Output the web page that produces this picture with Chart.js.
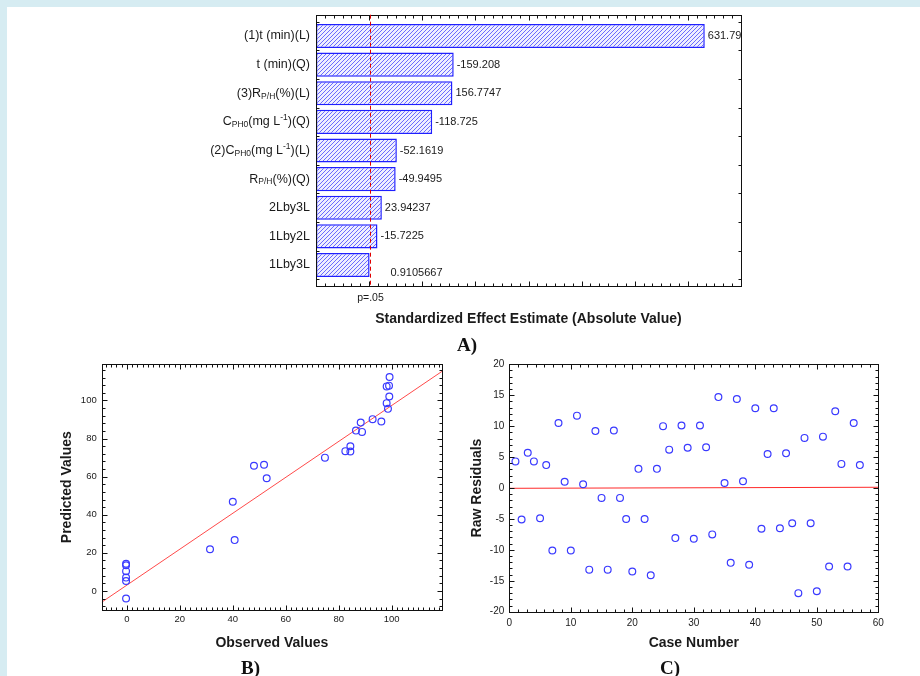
<!DOCTYPE html>
<html>
<head>
<meta charset="utf-8">
<script src="https://cdn.jsdelivr.net/npm/chart.js@4.4.1/dist/chart.umd.min.js"></script>
<style>
html, body { margin: 0; padding: 0; background: #fff; }
#page { position: relative; width: 920px; height: 676px; overflow: hidden; background: #fff; }
.band { position: absolute; background: #d6ecf2; }
canvas { position: absolute; }
.cap { position: absolute; font: bold 19px "Liberation Serif", "Times New Roman", serif; color: #111; line-height: 20px; }
</style>
</head>
<body>
<div id="page">
  <div class="band" style="left:0;top:0;width:920px;height:7px"></div>
  <div class="band" style="left:0;top:0;width:7px;height:676px"></div>
  <canvas id="chartA" width="920" height="356" style="left:0;top:0"></canvas>
  <canvas id="chartB" width="460" height="326" style="left:0;top:350px"></canvas>
  <canvas id="chartC" width="460" height="326" style="left:460px;top:350px"></canvas>
  <div class="cap" style="left:457px;top:335px">A)</div>
  <div class="cap" style="left:241px;top:658px">B)</div>
  <div class="cap" style="left:660px;top:658px">C)</div>
</div>
<script>
// A) pareto of standardized effects
var effectLabels = ["(1)t (min)(L)", "t (min)(Q)", "(3)R_{P/H}(%)(L)", "C_{PH0}(mg L^{-1})(Q)",
  "(2)C_{PH0}(mg L^{-1})(L)", "R_{P/H}(%)(Q)", "2Lby3L", "1Lby2L", "1Lby3L"];
var effectValues = [631.79, -159.208, 156.7747, -118.725, -52.1619, -49.9495, 23.94237, -15.7225, 0.9105667];
var pCritical = 2.0;

// B) observed vs predicted
var observed = [-0.3, -0.3, -0.3, -0.3, -0.3, -0.3, 31.4, 40.7, 40, 48, 51.8, 52.8, 74.8, 82.5, 84.4, 84.4,
  86.5, 88.3, 88.8, 92.8, 96.1, 98.1, 98.6, 99.1, 98.1, 99, 99.2];
var predicted = [14.3, 13.5, 10.4, 7.0, 5.2, -4.0, 21.9, 26.7, 46.8, 65.7, 66.3, 59.2, 70, 73.4, 76, 73.2,
  84.2, 88.4, 83.5, 90.2, 89, 98.6, 95.6, 102.1, 107.4, 107.8, 112.3];
var fitX = [-9.5, 119];
var fitY = [-5.9, 115.3];

// C) raw residuals by case
var caseNumbers = [1, 2, 3, 4, 5, 6, 7, 8, 9, 10, 11, 12, 13, 14, 15, 16, 17, 18, 19, 20, 21, 22, 23, 24, 25,
  26, 27, 28, 29, 30, 31, 32, 33, 34, 35, 36, 37, 38, 39, 40, 41, 42, 43, 44, 45, 46, 47, 48, 49, 50, 51, 52,
  53, 54, 55, 56, 57];
var residuals = [4.3, -5.1, 5.7, 4.3, -4.9, 3.7, -10.1, 10.5, 1.0, -10.1, 11.7, 0.6, -13.2, 9.2, -1.6, -13.2,
  9.3, -1.6, -5.0, -13.5, 3.1, -5.0, -14.1, 3.1, 10.0, 6.2, -8.1, 10.1, 6.5, -8.2, 10.1, 6.6, -7.5, 14.7, 0.8,
  -12.1, 14.4, 1.1, -12.4, 12.9, -6.6, 5.5, 12.9, -6.5, 5.6, -5.7, -17.0, 8.1, -5.7, -16.7, 8.3, -12.7, 12.4,
  3.9, -12.7, 10.5, 3.7];
var residFitX = [0, 60];
var residFitY = [-0.05, 0.12];

var FONT = "'Liberation Sans', Arial, sans-serif";
var INK = '#1a1a1a';
var titleFont = { family: FONT, size: 14, weight: 'bold' };

function tickList(min, max, step) {
  var out = [];
  for (var n = Math.ceil(min / step - 1e-9); n * step <= max + 1e-9; n++) out.push(n * step);
  return out;
}

// box round the plot with small inward ticks on all four sides
var framePlugin = {
  id: 'statFrame',
  afterDatasetsDraw: function (chart, args, opts) {
    var ctx = chart.ctx, a = chart.chartArea, sx = chart.scales.x, sy = chart.scales.y;
    var pad = opts.padY || 0;
    var top = Math.round(a.top - pad) + 0.5, bottom = Math.round(a.bottom + pad) + 0.5;
    var left = Math.round(a.left) + 0.5, right = Math.round(a.right) + 0.5;
    ctx.save();
    ctx.strokeStyle = '#111';
    ctx.lineWidth = 1;
    ctx.beginPath();
    function xt(v, len) {
      var p = Math.round(sx.getPixelForValue(v)) + 0.5;
      ctx.moveTo(p, top); ctx.lineTo(p, top + len);
      ctx.moveTo(p, bottom); ctx.lineTo(p, bottom - len);
    }
    function yt(p, len) {
      p = Math.round(p) + 0.5;
      ctx.moveTo(left, p); ctx.lineTo(left + len, p);
      ctx.moveTo(right, p); ctx.lineTo(right - len, p);
    }
    tickList(sx.min, sx.max, opts.xStep).forEach(function (v) { xt(v, 3); });
    tickList(sx.min, sx.max, opts.xMajor).forEach(function (v) { xt(v, 5); });
    if (opts.yCategory) {
      for (var i = 0; i <= chart.data.labels.length; i++) yt(sy.getPixelForValue(i - 0.5), 3);
    } else {
      tickList(sy.min, sy.max, opts.yStep).forEach(function (v) { yt(sy.getPixelForValue(v), 3); });
      tickList(sy.min, sy.max, opts.yMajor).forEach(function (v) { yt(sy.getPixelForValue(v), 5); });
    }
    ctx.stroke();
    ctx.strokeRect(left, top, right - left, bottom - top);
    ctx.restore();
  }
};

// labels with sub/superscripts, p=.05 line and value labels
function richParts(label) {
  var parts = [], re = /([_^])\{([^}]*)\}/g, last = 0, m;
  while ((m = re.exec(label))) {
    if (m.index > last) parts.push({ t: label.slice(last, m.index), k: '' });
    parts.push({ t: m[2], k: m[1] });
    last = re.lastIndex;
  }
  if (last < label.length) parts.push({ t: label.slice(last), k: '' });
  return parts;
}

var paretoPlugin = {
  id: 'pareto',
  afterDraw: function (chart) {
    var ctx = chart.ctx, a = chart.chartArea, sx = chart.scales.x, sy = chart.scales.y;
    var pad = chart.options.plugins.statFrame.padY;
    ctx.save();
    // category labels
    ctx.fillStyle = INK;
    ctx.textBaseline = 'middle';
    chart.data.labels.forEach(function (lab, i) {
      var parts = richParts(lab), y = sy.getPixelForValue(i), w = 0;
      parts.forEach(function (p) {
        ctx.font = (p.k ? '8.5px ' : '12.5px ') + FONT;
        p.w = ctx.measureText(p.t).width;
        w += p.w;
      });
      var x = a.left - 6 - w;
      parts.forEach(function (p) {
        ctx.font = (p.k ? '8.5px ' : '12.5px ') + FONT;
        ctx.fillText(p.t, x, y + (p.k === '_' ? 3 : p.k === '^' ? -4 : 0));
        x += p.w;
      });
    });
    // p = .05 line
    var cx = Math.round(sx.getPixelForValue(pCritical)) + 0.5;
    ctx.strokeStyle = '#e00000';
    ctx.lineWidth = 1;
    ctx.setLineDash([4, 3]);
    ctx.beginPath();
    ctx.moveTo(cx, a.top - pad);
    ctx.lineTo(cx, a.bottom + pad);
    ctx.stroke();
    ctx.setLineDash([]);
    ctx.font = '10.5px ' + FONT;
    ctx.textAlign = 'center';
    ctx.fillText('p=.05', cx, a.bottom + pad + 12);
    // value labels
    ctx.font = '11px ' + FONT;
    ctx.textAlign = 'left';
    effectValues.forEach(function (v, i) {
      var end = sx.getPixelForValue(Math.abs(v)), y = sy.getPixelForValue(i);
      if (Math.abs(v) < pCritical) ctx.fillText(String(v), cx + 20, y + 8);
      else ctx.fillText(String(v), end + 3, y);
    });
    ctx.restore();
  }
};

var ctxA = document.getElementById('chartA').getContext('2d');
var tile = document.createElement('canvas');
tile.width = 4; tile.height = 4;
var tc = tile.getContext('2d');
tc.fillStyle = '#eeeeff';
tc.fillRect(0, 0, 4, 4);
tc.strokeStyle = '#6a6aff';
tc.lineWidth = 1;
tc.beginPath();
tc.moveTo(0, 4); tc.lineTo(4, 0);
tc.moveTo(-1, 1); tc.lineTo(1, -1);
tc.moveTo(3, 5); tc.lineTo(5, 3);
tc.stroke();
var hatch = ctxA.createPattern(tile, 'repeat');

new Chart(ctxA, {
  type: 'bar',
  data: {
    labels: effectLabels,
    datasets: [{
      data: effectValues.map(function (v) { return Math.abs(v); }),
      base: -100,
      backgroundColor: hatch,
      borderColor: '#1f1fff',
      borderWidth: 1.5,
      borderSkipped: false,
      barPercentage: 0.84,
      categoryPercentage: 1
    }]
  },
  options: {
    indexAxis: 'y',
    responsive: false,
    animation: false,
    devicePixelRatio: 1,
    layout: { padding: { top: 21.7, right: 179, bottom: 0, left: 0 } },
    plugins: {
      legend: { display: false },
      tooltip: { enabled: false },
      statFrame: { padY: 7, xStep: 100 / 6, xMajor: 100, yCategory: true }
    },
    scales: {
      x: {
        type: 'linear', min: -100, max: 700,
        grid: { display: false, drawTicks: false }, border: { display: false }, ticks: { display: false },
        title: { display: true, text: 'Standardized Effect Estimate (Absolute Value)', color: INK, font: titleFont,
          padding: { top: 0, bottom: 28.6 } },
        afterFit: function (s) { s.height = 76.7; }
      },
      y: {
        grid: { display: false, drawTicks: false }, border: { display: false }, ticks: { display: false },
        afterFit: function (s) { s.width = 316; }
      }
    }
  },
  plugins: [framePlugin, paretoPlugin]
});

var pointStyle = {
  pointStyle: 'circle', pointRadius: 3.4, pointBorderWidth: 1.2,
  pointBorderColor: '#3a3aff', pointBackgroundColor: 'rgba(0,0,0,0)', showLine: false
};

function scatterOptions(o) {
  return {
    responsive: false,
    animation: false,
    devicePixelRatio: 1,
    layout: { padding: o.padding },
    plugins: { legend: { display: false }, tooltip: { enabled: false }, statFrame: o.frame },
    scales: {
      x: {
        type: 'linear', min: o.xMin, max: o.xMax,
        grid: { display: false, drawTicks: false }, border: { display: false },
        ticks: { stepSize: o.xStepLabel, includeBounds: false, color: INK, font: { family: FONT, size: o.tickSize }, padding: o.xPad, maxRotation: 0 },
        title: { display: true, text: o.xTitle, color: INK, font: titleFont, padding: { top: 0, bottom: o.xTitlePad } },
        afterFit: function (s) { s.height = o.xHeight; }
      },
      y: {
        type: 'linear', min: o.yMin, max: o.yMax,
        grid: { display: false, drawTicks: false }, border: { display: false },
        ticks: { stepSize: o.yStepLabel, includeBounds: false, color: INK, font: { family: FONT, size: o.tickSize }, padding: 5 },
        title: { display: true, text: o.yTitle, color: INK, font: titleFont, padding: { top: o.yTitlePad, bottom: 0 } },
        afterFit: function (s) { s.width = o.yWidth; }
      }
    }
  };
}

new Chart(document.getElementById('chartB'), {
  type: 'scatter',
  data: {
    datasets: [
      Object.assign({ data: observed.map(function (x, i) { return { x: x, y: predicted[i] }; }) }, pointStyle),
      {
        type: 'line',
        data: fitX.map(function (x, i) { return { x: x, y: fitY[i] }; }),
        borderColor: '#ff4a4a', borderWidth: 1, pointRadius: 0, fill: false
      }
    ]
  },
  options: scatterOptions({
    padding: { top: 14.3, right: 18, bottom: 0, left: 0 },
    frame: { xStep: 2, xMajor: 20, yStep: 4, yMajor: 20 },
    xMin: -9.5, xMax: 119, yMin: -10, yMax: 119,
    xStepLabel: 20, yStepLabel: 20, tickSize: 9.5, xPad: 3.5,
    xTitle: 'Observed Values', xTitlePad: 24.9, xHeight: 66,
    yTitle: 'Predicted Values', yTitlePad: 58.6, yWidth: 101.7
  }),
  plugins: [framePlugin]
});

new Chart(document.getElementById('chartC'), {
  type: 'scatter',
  data: {
    datasets: [
      Object.assign({ data: caseNumbers.map(function (x, i) { return { x: x, y: residuals[i] }; }) }, pointStyle),
      {
        type: 'line',
        data: residFitX.map(function (x, i) { return { x: x, y: residFitY[i] }; }),
        borderColor: '#ff2a2a', borderWidth: 1, pointRadius: 0, fill: false
      }
    ]
  },
  options: scatterOptions({
    padding: { top: 14.3, right: 41.7, bottom: 0, left: 0 },
    frame: { xStep: 10 / 7, xMajor: 10, yStep: 1, yMajor: 5 },
    xMin: 0, xMax: 60, yMin: -20, yMax: 20,
    xStepLabel: 10, yStepLabel: 5, tickSize: 10, xPad: 6,
    xTitle: 'Case Number', xTitlePad: 24.6, xHeight: 64.3,
    yTitle: 'Raw Residuals', yTitlePad: 8.6, yWidth: 49.3
  }),
  plugins: [framePlugin]
});
</script>
</body>
</html>
